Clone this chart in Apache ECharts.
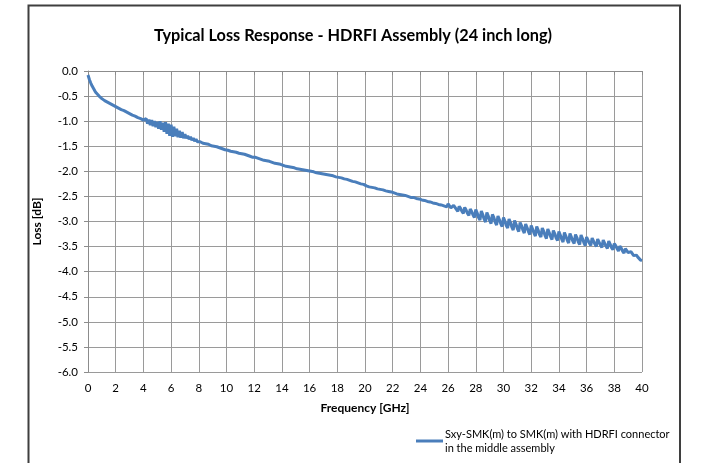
<!DOCTYPE html>
<html>
<head>
<meta charset="utf-8">
<script src="https://cdn.jsdelivr.net/npm/echarts@6/dist/echarts.min.js"></script>
<style>
html,body{margin:0;padding:0;background:#fff;}
#chart{width:704px;height:463px;}
</style>
</head>
<body>
<div id="chart"></div>
<script>
// ---- data ----
const chartTitle = 'Typical Loss Response - HDRFI Assembly (24 inch long)';
const xAxisTitle = 'Frequency [GHz]';
const yAxisTitle = 'Loss [dB]';
const seriesName = 'Sxy-SMK(m) to SMK(m) with HDRFI connector\nin the middle assembly';
const freqTicks = [0,2,4,6,8,10,12,14,16,18,20,22,24,26,28,30,32,34,36,38,40];
const lossTicks = [0.0,-0.5,-1.0,-1.5,-2.0,-2.5,-3.0,-3.5,-4.0,-4.5,-5.0,-5.5,-6.0];
const freqStartGHz = 0;
const freqStepGHz = 0.1;
// loss [dB], one row per GHz (0.1 GHz steps)
const loss0to9 = [
 -0.08,-0.17,-0.24,-0.30,-0.35,-0.40,-0.44,-0.47,-0.50,-0.53,
 -0.55,-0.57,-0.59,-0.60,-0.62,-0.63,-0.65,-0.66,-0.68,-0.69,
 -0.71,-0.72,-0.74,-0.75,-0.77,-0.78,-0.79,-0.81,-0.82,-0.84,
 -0.85,-0.86,-0.88,-0.89,-0.90,-0.92,-0.93,-0.94,-0.95,-0.97,
 -0.98,-1.01,-0.95,-1.05,-0.97,-1.08,-0.98,-1.10,-1.00,-1.12,
 -1.01,-1.15,-1.00,-1.17,-1.03,-1.21,-1.02,-1.25,-1.05,-1.29,
 -1.07,-1.31,-1.11,-1.30,-1.15,-1.32,-1.19,-1.33,-1.22,-1.34,
 -1.26,-1.34,-1.29,-1.36,-1.31,-1.38,-1.34,-1.40,-1.36,-1.41,
 -1.40,-1.41,-1.42,-1.44,-1.44,-1.45,-1.47,-1.46,-1.48,-1.49,
 -1.49,-1.50,-1.51,-1.51,-1.53,-1.53,-1.54,-1.55,-1.55,-1.57
];
const loss10to19 = [
 -1.57,-1.58,-1.58,-1.60,-1.60,-1.61,-1.62,-1.62,-1.63,-1.64,
 -1.64,-1.65,-1.66,-1.66,-1.68,-1.68,-1.69,-1.70,-1.70,-1.72,
 -1.72,-1.72,-1.74,-1.74,-1.75,-1.76,-1.76,-1.78,-1.78,-1.79,
 -1.79,-1.80,-1.81,-1.82,-1.82,-1.84,-1.84,-1.85,-1.86,-1.86,
 -1.87,-1.88,-1.88,-1.90,-1.89,-1.91,-1.91,-1.92,-1.92,-1.93,
 -1.93,-1.95,-1.94,-1.96,-1.96,-1.97,-1.98,-1.98,-1.99,-1.99,
 -2.00,-2.00,-2.01,-2.01,-2.02,-2.03,-2.03,-2.04,-2.04,-2.05,
 -2.05,-2.06,-2.06,-2.07,-2.08,-2.08,-2.09,-2.09,-2.10,-2.11,
 -2.11,-2.12,-2.13,-2.13,-2.15,-2.15,-2.17,-2.16,-2.18,-2.18,
 -2.19,-2.20,-2.21,-2.21,-2.23,-2.23,-2.24,-2.25,-2.25,-2.26
];
const loss20to29 = [
 -2.27,-2.29,-2.27,-2.31,-2.29,-2.32,-2.31,-2.33,-2.32,-2.35,
 -2.33,-2.36,-2.35,-2.37,-2.36,-2.39,-2.37,-2.40,-2.39,-2.41,
 -2.40,-2.43,-2.41,-2.45,-2.42,-2.46,-2.44,-2.47,-2.46,-2.48,
 -2.47,-2.50,-2.48,-2.52,-2.50,-2.52,-2.51,-2.54,-2.52,-2.55,
 -2.53,-2.57,-2.54,-2.58,-2.56,-2.60,-2.57,-2.61,-2.59,-2.63,
 -2.60,-2.64,-2.61,-2.66,-2.63,-2.67,-2.64,-2.69,-2.66,-2.71,
 -2.65,-2.69,-2.73,-2.75,-2.68,-2.72,-2.76,-2.80,-2.70,-2.74,
 -2.80,-2.84,-2.72,-2.77,-2.84,-2.88,-2.75,-2.80,-2.87,-2.92,
 -2.76,-2.83,-2.92,-2.97,-2.79,-2.86,-2.95,-3.01,-2.82,-2.89,
 -2.98,-3.04,-2.86,-2.92,-3.01,-3.07,-2.89,-2.96,-3.04,-3.10
];
const loss30to40 = [
 -2.92,-2.99,-3.08,-3.13,-2.95,-3.02,-3.11,-3.17,-2.98,-3.05,
 -3.14,-3.20,-3.02,-3.08,-3.17,-3.23,-3.05,-3.12,-3.20,-3.26,
 -3.08,-3.15,-3.23,-3.29,-3.10,-3.17,-3.26,-3.31,-3.13,-3.19,
 -3.28,-3.34,-3.15,-3.22,-3.30,-3.36,-3.18,-3.24,-3.33,-3.38,
 -3.20,-3.27,-3.35,-3.41,-3.22,-3.29,-3.37,-3.43,-3.24,-3.31,
 -3.39,-3.44,-3.26,-3.32,-3.41,-3.46,-3.27,-3.34,-3.42,-3.48,
 -3.31,-3.37,-3.43,-3.48,-3.33,-3.39,-3.45,-3.50,-3.35,-3.41,
 -3.47,-3.52,-3.37,-3.43,-3.49,-3.54,-3.39,-3.45,-3.52,-3.56,
 -3.44,-3.48,-3.54,-3.59,-3.49,-3.53,-3.59,-3.63,-3.54,-3.58,
 -3.62,-3.65,-3.60,-3.63,-3.68,-3.70,-3.67,-3.71,-3.74,-3.77,
 -3.78
];

// ---- build chart ----
const lossDb = [].concat(loss0to9, loss10to19, loss20to29, loss30to40);
const points = lossDb.map((v, i) => [+(freqStartGHz + i * freqStepGHz).toFixed(2), v]);

const FONT = 'Lato';
const chart = echarts.init(document.getElementById('chart'), null, {renderer: 'canvas'});
chart.setOption({
  animation: false,
  backgroundColor: '#ffffff',
  title: {
    text: chartTitle,
    left: 348, top: 23, textAlign: 'center',
    textStyle: {fontFamily: FONT, fontWeight: 'bold', fontSize: 16.3, color: '#000'}
  },
  grid: {left: 88, right: 62, top: 71, bottom: 91, containLabel: false},
  xAxis: {
    type: 'value',
    min: freqTicks[0], max: freqTicks[freqTicks.length - 1],
    interval: freqTicks[1] - freqTicks[0],
    name: xAxisTitle, nameLocation: 'middle', nameGap: 30,
    nameTextStyle: {fontFamily: FONT, fontWeight: 'bold', fontSize: 12, color: '#000'},
    axisLine: {show: true, lineStyle: {color: '#8c8c8c', width: 1}},
    axisTick: {show: true, length: 4, inside: false, lineStyle: {color: '#8c8c8c'}},
    axisLabel: {fontFamily: FONT, fontSize: 11.5, color: '#000', margin: 10},
    splitLine: {show: true, lineStyle: {color: '#9a9a9a', width: 1}}
  },
  yAxis: {
    type: 'value',
    min: lossTicks[lossTicks.length - 1], max: lossTicks[0],
    interval: lossTicks[0] - lossTicks[1],
    name: yAxisTitle, nameLocation: 'middle', nameGap: 45, nameRotate: 90,
    nameTextStyle: {fontFamily: FONT, fontWeight: 'bold', fontSize: 12, color: '#000'},
    axisLine: {show: true, lineStyle: {color: '#8c8c8c', width: 1}},
    axisTick: {show: true, length: 4, inside: false, lineStyle: {color: '#8c8c8c'}},
    axisLabel: {fontFamily: FONT, fontSize: 11.5, color: '#000', margin: 10,
      formatter: v => Number(v).toFixed(1)},
    splitLine: {show: true, lineStyle: {color: '#9a9a9a', width: 1}}
  },
  legend: {
    left: 416, top: 420, padding: 0,
    icon: 'rect', itemWidth: 27, itemHeight: 3, itemGap: 0,
    textStyle: {fontFamily: FONT, fontSize: 11, color: '#000', lineHeight: 14, padding: [14, 0, 0, -3]},
    data: [seriesName]
  },
  graphic: [{
    type: 'rect', silent: true,
    shape: {x: 28.5, y: 5.5, width: 651.5, height: 480},
    style: {fill: 'none', stroke: '#3f3f3f', lineWidth: 2}
  }],
  series: [{
    name: seriesName,
    type: 'line',
    data: points,
    showSymbol: false,
    symbol: 'none',
    lineStyle: {color: '#4a7ebb', width: 3},
    itemStyle: {color: '#4a7ebb'}
  }]
});
</script>
</body>
</html>
